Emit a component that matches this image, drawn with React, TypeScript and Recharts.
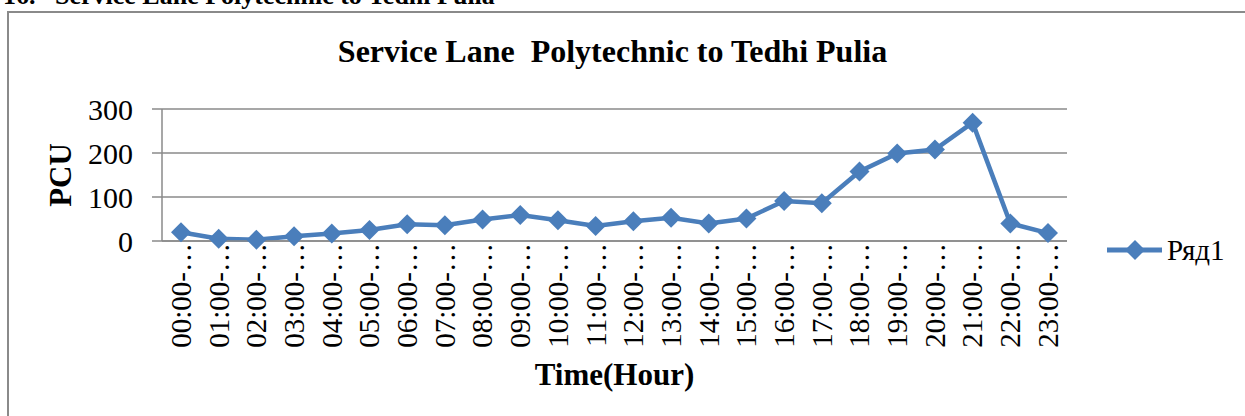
import React from "react";
import { LineChart, Line, XAxis, YAxis, CartesianGrid, Legend, Label } from "recharts";

const hours = [
  "00:00-01:00", "01:00-02:00", "02:00-03:00", "03:00-04:00", "04:00-05:00", "05:00-06:00",
  "06:00-07:00", "07:00-08:00", "08:00-09:00", "09:00-10:00", "10:00-11:00", "11:00-12:00",
  "12:00-13:00", "13:00-14:00", "14:00-15:00", "15:00-16:00", "16:00-17:00", "17:00-18:00",
  "18:00-19:00", "19:00-20:00", "20:00-21:00", "21:00-22:00", "22:00-23:00", "23:00-24:00",
];
const pcu = [20, 5, 3, 11, 17, 25, 38, 36, 49, 59, 47, 34, 45, 53, 40, 51, 91, 86, 158, 199, 208, 269, 40, 18];
const yTicks = [0, 100, 200, 300];
const seriesName = "Ряд1";
const chartTitle = "Service Lane  Polytechnic to Tedhi Pulia";
const pageHeading = "Service Lane Polytechnic to Tedhi Pulia";

const data = hours.map((h, i) => ({ hour: h, pcu: pcu[i] }));

const serif = '"Liberation Serif", "Times New Roman", serif';
const blue = "#4A7EBB";
const grey = "#8a8a8a";

function Diamond(props: any) {
  const { cx, cy } = props;
  if (cx == null || cy == null) return null;
  const r = 10;
  return (
    <polygon
      points={`${cx},${cy - r} ${cx + r},${cy} ${cx},${cy + r} ${cx - r},${cy}`}
      fill={blue}
    />
  );
}

function HourTick(props: any) {
  const { x, y, payload } = props;
  const label = payload.value.slice(0, 6) + "…";
  return (
    <text
      x={x}
      y={y}
      transform={`rotate(-90, ${x}, ${y})`}
      textAnchor="end"
      dy="0.34em"
      fontSize={29}
      fontFamily={serif}
      fill="#000"
    >
      {label}
    </text>
  );
}

function LegendBox(props: any) {
  const item = props.payload && props.payload[0];
  return (
    <svg width={140} height={36}>
      <line x1={7} y1={18} x2={62} y2={18} stroke={blue} strokeWidth={5} />
      <polygon points="35,8 45,18 35,28 25,18" fill={blue} />
      <text x={67} y={28} fontSize={29} fontFamily={serif} fill="#000">
        {item ? item.value : seriesName}
      </text>
    </svg>
  );
}

export default function App() {
  return (
    <div style={{ position: "absolute", left: 0, top: 0, width: 1245, height: 416, overflow: "hidden", background: "#fff" }}>
      <svg width={1245} height={20} style={{ position: "absolute", left: 0, top: 0 }}>
        <text x={3} y={4} fontSize={26} fontWeight="bold" fontFamily={serif}>16.</text>
        <text x={55} y={4} fontSize={26} fontWeight="bold" fontFamily={serif}>{pageHeading}</text>
      </svg>
      <div
        style={{
          position: "absolute",
          left: 7,
          top: 11,
          width: 1260,
          height: 430,
          border: `2px solid ${grey}`,
          boxSizing: "border-box",
        }}
      />
      <div
        style={{
          position: "absolute",
          left: 0,
          top: 31,
          width: 1225,
          textAlign: "center",
          fontFamily: serif,
          fontWeight: "bold",
          fontSize: 32,
          lineHeight: "40px",
          whiteSpace: "pre",
        }}
      >
        {chartTitle}
      </div>
      <div style={{ position: "absolute", left: 0, top: 0 }}>
        <LineChart width={1245} height={416} data={data} margin={{ top: 109, right: 178, bottom: 55, left: 30 }}>
          <CartesianGrid vertical={false} stroke={grey} strokeWidth={1.5} />
          <XAxis
            dataKey="hour"
            interval={0}
            height={120}
            padding={{ left: 19, right: 19 }}
            axisLine={{ stroke: grey, strokeWidth: 1.5 }}
            tickLine={false}
            tickSize={0}
            tickMargin={2}
            tick={<HourTick />}
          >
            <Label
              value="Time(Hour)"
              position="bottom"
              offset={2}
              style={{ fontSize: 31, fontWeight: "bold", fontFamily: serif, fill: "#000" }}
            />
          </XAxis>
          <YAxis
            width={132}
            domain={[0, 300]}
            ticks={yTicks}
            axisLine={{ stroke: grey, strokeWidth: 1.5 }}
            tickLine={{ stroke: grey, strokeWidth: 1.5 }}
            tickSize={10}
            tickMargin={19}
            tick={{ fontSize: 30, fill: "#000", fontFamily: serif }}
          >
            <Label
              value="PCU"
              angle={-90}
              position="insideLeft"
              offset={30}
              style={{ fontSize: 31, fontWeight: "bold", fontFamily: serif, fill: "#000", textAnchor: "middle" }}
            />
          </YAxis>
          <Legend
            layout="horizontal"
            align="center"
            verticalAlign="middle"
            wrapperStyle={{ left: 1100, top: 232, width: 140, height: 36 }}
            content={<LegendBox />}
          />
          <Line
            type="linear"
            dataKey="pcu"
            name={seriesName}
            stroke={blue}
            strokeWidth={4.5}
            dot={<Diamond />}
            activeDot={false}
            isAnimationActive={false}
          />
        </LineChart>
      </div>
    </div>
  );
}
